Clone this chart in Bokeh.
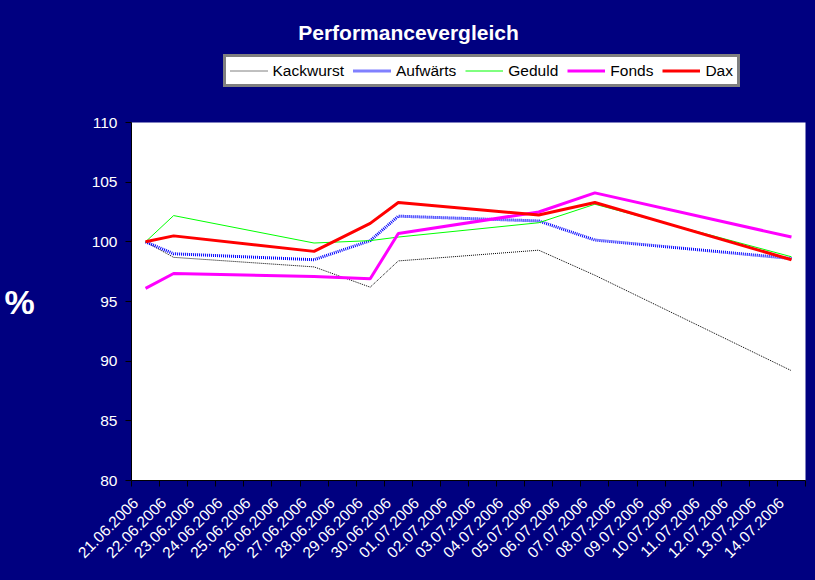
from bokeh.plotting import figure
from bokeh.layouts import column
from bokeh.models import Range1d, FixedTicker, Legend, LegendItem, Label
from bokeh.embed import file_html
from bokeh.resources import INLINE

# ---- data ----
dates = ["21.06.2006", "22.06.2006", "23.06.2006", "24.06.2006", "25.06.2006",
         "26.06.2006", "27.06.2006", "28.06.2006", "29.06.2006", "30.06.2006",
         "01.07.2006", "02.07.2006", "03.07.2006", "04.07.2006", "05.07.2006",
         "06.07.2006", "07.07.2006", "08.07.2006", "09.07.2006", "10.07.2006",
         "11.07.2006", "12.07.2006", "13.07.2006", "14.07.2006"]
data_dates = ["21.06.2006", "22.06.2006", "27.06.2006", "29.06.2006",
              "30.06.2006", "05.07.2006", "07.07.2006", "14.07.2006"]
kackwurst = [100.0, 98.7, 97.9, 96.2, 98.4, 99.3, 97.2, 89.2]
aufwaerts = [100.0, 99.0, 98.5, 100.1, 102.15, 101.75, 100.15, 98.6]
geduld = [100.0, 102.2, 99.9, 100.1, 100.4, 101.6, 103.15, 98.75]
fonds = [96.1, 97.35, 97.1, 96.9, 100.7, 102.5, 104.1, 100.4]
dax = [100.0, 100.5, 99.2, 101.55, 103.3, 102.25, 103.3, 98.5]
series_names = ["Kackwurst", "Aufwärts", "Geduld", "Fonds", "Dax"]
series = [kackwurst, aufwaerts, geduld, fonds, dax]
y_ticks = [80, 85, 90, 95, 100, 105, 110]
y_min, y_max = 80, 110

x = [dates.index(d) + 0.5 for d in data_dates]
label_pos = [i + 0.15 for i in range(len(dates))]
bounds = list(range(len(dates) + 1))

NAVY = "#000080"
FONT = "Liberation Sans"
W = 815
TOP_H = 100          # header strip (title + legend)
MAIN_H = 480
LEFT, RIGHT = 131, 10

styles = [
    dict(line_color="black", line_width=1, line_dash="1 1"),
    dict(line_color="#0000ff", line_width=3, line_dash="1 1"),
    dict(line_color="#00ff00", line_width=1),
    dict(line_color="#ff00ff", line_width=3),
    dict(line_color="#ff0000", line_width=3),
]

# ---------------- header figure: title + legend ----------------
head = figure(width=W, height=TOP_H, output_backend="svg", toolbar_location=None,
              title=None, x_axis_location=None, y_axis_location=None,
              x_range=Range1d(0, 1), y_range=Range1d(0, 1),
              min_border_left=LEFT, min_border_right=RIGHT,
              min_border_top=0, min_border_bottom=0)
head.background_fill_color = NAVY
head.border_fill_color = NAVY
head.outline_line_color = None
head.xgrid.grid_line_color = None
head.ygrid.grid_line_color = None

# legend renderers: the series themselves, lying outside this strip's view
legend_r = [head.line(x, ys, **s) for ys, s in zip(series, styles)]
legend = Legend(items=[LegendItem(label=n, renderers=[r])
                       for n, r in zip(series_names, legend_r)],
                orientation="horizontal", location=(222.5 - LEFT, 13))
legend.background_fill_color = "white"
legend.background_fill_alpha = 1
legend.border_line_color = "black"
legend.border_line_width = 3
legend.label_text_font = FONT
legend.label_text_font_size = "15.5px"
legend.label_text_color = "black"
legend.glyph_width = 38
legend.glyph_height = 19
legend.label_height = 19
legend.label_standoff = 5
legend.spacing = 9
legend.padding = 4
legend.margin = 0
head.add_layout(legend, "center")

head.add_layout(Label(x=408 - LEFT, y=TOP_H - 32, x_units="screen", y_units="screen",
                      text="Performancevergleich", text_align="center",
                      text_baseline="alphabetic", text_color="white",
                      text_font=FONT, text_font_style="bold",
                      text_font_size="21px"))

# ---------------- main chart ----------------
p = figure(width=W, height=MAIN_H, output_backend="svg", toolbar_location=None,
           title=None,
           x_range=Range1d(0, len(dates)), y_range=Range1d(y_min, y_max),
           min_border_left=LEFT, min_border_right=RIGHT,
           min_border_top=122 - TOP_H, min_border_bottom=100)
p.background_fill_color = "white"
p.border_fill_color = NAVY
p.outline_line_color = None
p.xgrid.grid_line_color = None
p.ygrid.grid_line_color = None

p.xaxis.ticker = FixedTicker(ticks=label_pos, minor_ticks=bounds)
p.xaxis.major_label_overrides = {c: d for c, d in zip(label_pos, dates)}
p.xaxis.major_label_orientation = 0.785398
p.xaxis.major_tick_out = 0
p.xaxis.major_tick_in = 0
p.xaxis.minor_tick_out = 6
p.xaxis.minor_tick_in = 0
p.xaxis.minor_tick_line_color = "black"
p.xaxis.major_label_standoff = 14

p.yaxis.ticker = FixedTicker(ticks=y_ticks)
p.yaxis.major_tick_out = 6
p.yaxis.major_tick_in = 0
p.yaxis.minor_tick_line_color = None
p.yaxis.major_label_standoff = 8
p.yaxis.axis_label = "%"
p.yaxis.axis_label_orientation = "horizontal"
p.yaxis.axis_label_standoff = 54
p.yaxis.axis_label_text_color = "white"
p.yaxis.axis_label_text_font = FONT
p.yaxis.axis_label_text_font_style = "bold"
p.yaxis.axis_label_text_font_size = "34px"

for ax in (p.xaxis, p.yaxis):
    ax.axis_line_color = "black"
    ax.major_tick_line_color = "black"
    ax.major_label_text_color = "white"
    ax.major_label_text_font = FONT
    ax.major_label_text_font_size = "15.5px"

for ys, s in zip(series, styles):
    p.line(x, ys, **s)

layout = column(head, p, spacing=0)
layout.background = NAVY

open("out.html", "w").write(file_html(layout, INLINE))
